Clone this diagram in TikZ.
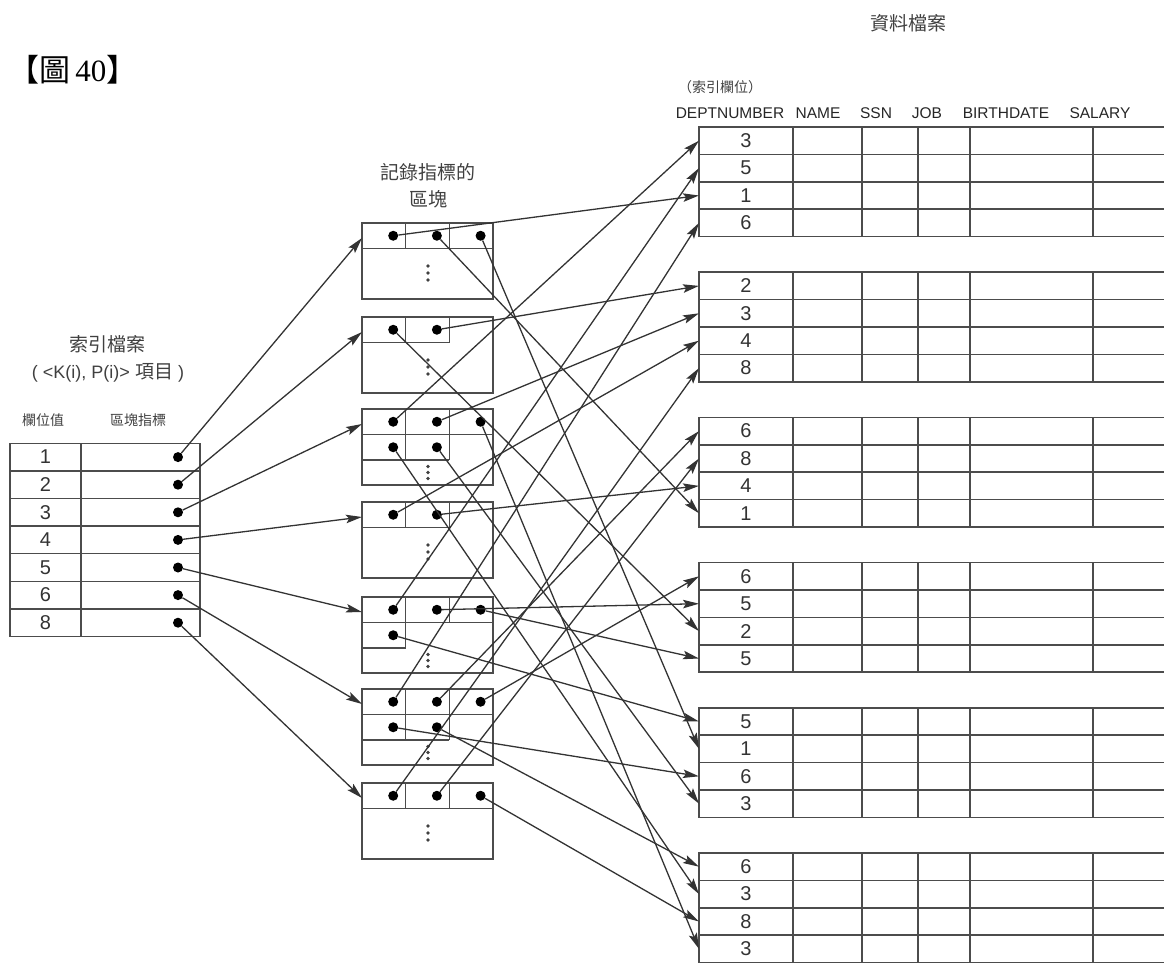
\documentclass[tikz,border=0pt]{standalone}
\usepackage{fontspec}
\setmainfont{Liberation Sans}
\newfontfamily\cjk{Noto Sans CJK TC}
\newfontfamily\titleserif{Liberation Serif}
\usetikzlibrary{arrows.meta}

\tikzset{
  ptr/.style={-{Stealth[length=16pt,width=8.5pt,inset=3pt]}, line width=1.3pt, draw=black!80},
  ptrdot/.style={circle, fill=black, inner sep=0pt, minimum size=10pt},
  cell/.style={line width=1.5pt, draw=black!70},
  val/.style={font=\fontsize{20}{20}\selectfont, text=black!80},
  hdr/.style={font=\fontsize{15.5}{16}\selectfont, text=black!85},
  lbl/.style={font=\cjk\fontsize{19}{27}\selectfont, text=black!75, align=center},
  small/.style={font=\cjk\fontsize{14}{14}\selectfont, text=black!75},
}

% block of record pointers: name, top, pointers in row 1, pointers in row 2
\newcommand\recblock[4]{%
  \draw[cell] (362,#2) rectangle (493,#2+76);
  \coordinate (#1in) at (362,#2+15);
  \draw[cell] (362,#2+25.5) -- (362+43.7*#3,#2+25.5);
  \foreach \c in {1,...,#3} {
    \draw[cell] (362+43.7*\c,#2) -- (362+43.7*\c,#2+25.5);
    \node[ptrdot] (#1a\c) at (362+43.7*\c-12.5,#2+12.75) {};
  }
  \ifnum#4>0
    \draw[cell] (362,#2+51) -- (362+43.7*#4,#2+51);
    \foreach \c in {1,...,#4} {
      \draw[cell] (362+43.7*\c,#2+25.5) -- (362+43.7*\c,#2+51);
      \node[ptrdot] (#1b\c) at (362+43.7*\c-12.5,#2+38.25) {};
    }
    \foreach \e in {-6,0,6} \fill[black!75] (428,#2+63.5+\e) circle (1.8pt);
  \else
    \foreach \e in {-7,0,7} \fill[black!75] (428,#2+50+\e) circle (1.8pt);
  \fi
}

\begin{document}
\begin{tikzpicture}[x=1pt, y=-1pt]
  \useasboundingbox (0,0) rectangle (1164,963);
  \clip (0,0) rectangle (1164,963);

  % titles
  \node[anchor=west, inner sep=0pt, font=\fontsize{31}{31}\selectfont] (title) at (8,70)
    {{\cjk 【圖}\,{\titleserif 40}{\cjk 】}};
  \node[lbl] (dfile) at (908,23) {資料檔案};
  \node[small] (keyf) at (720,87) {（索引欄位）};
  \node[lbl] (blklbl) at (428,186) {記錄指標的\\區塊};
  \node[lbl] (ifile) at (108,359) {索引檔案\\{\rmfamily\fontsize{18}{18}\selectfont ( <K(i), P(i)> }項目{\rmfamily\fontsize{18}{18}\selectfont\ )}};
  \node[small] (hkey) at (43,420) {欄位值};
  \node[small] (hptr) at (138,420) {區塊指標};

  % data file header
  \node[hdr] (hdept) at (730,113) {DEPTNUMBER};
  \node[hdr] (hname) at (818,113) {NAME};
  \node[hdr] (hssn) at (876,113) {SSN};
  \node[hdr] (hjob) at (927,113) {JOB};
  \node[hdr] (hbirth) at (1006,113) {BIRTHDATE};
  \node[hdr] (hsal) at (1100,113) {SALARY};

  % data file blocks
  \foreach \vals [count=\k from 0] in {{3,5,1,6},{2,3,4,8},{6,8,4,1},{6,5,2,5},{5,1,6,3},{6,3,8,3}} {
    \pgfmathsetmacro\T{127+145.2*\k}
    \draw[cell] (699,\T) rectangle (1175,\T+109.6);
    \foreach \j in {1,2,3} \draw[cell] (699,\T+27.4*\j) -- (1175,\T+27.4*\j);
    \foreach \cx in {793,862,918,970,1093} \draw[cell] (\cx,\T) -- (\cx,\T+109.6);
    \foreach \v [count=\r from 0] in \vals {
      \node[val] (v\k\r) at (746,\T+13.7+27.4*\r) {\v};
      \coordinate (rec\k\r) at (699,\T+13.7+27.4*\r);
    }
  }

  % index file
  \draw[cell] (10,443.3) rectangle (200,636.5);
  \draw[cell] (81,443.3) -- (81,636.5);
  \foreach \v [count=\i from 0] in {1,2,3,4,5,6,8} {
    \draw[cell] (10,443.3+27.6*\i) -- (200,443.3+27.6*\i);
    \node[val] (k\v) at (45.5,443.3+13.8+27.6*\i) {\v};
    \node[ptrdot] (ix\v) at (178,443.3+13.8+27.6*\i) {};
  }

  % blocks of record pointers
  \recblock{b1}{223}{3}{0}
  \recblock{b2}{317}{2}{0}
  \recblock{b3}{409}{3}{2}
  \recblock{b4}{502}{2}{0}
  \recblock{b5}{597}{3}{1}
  \recblock{b6}{689}{3}{2}
  \recblock{b7}{783}{3}{0}

  % index entries to blocks
  \foreach \a/\b in {ix1/b1in, ix2/b2in, ix3/b3in, ix4/b4in, ix5/b5in, ix6/b6in, ix8/b7in}
    \draw[ptr] (\a) -- (\b);

  % record pointers to records
  \foreach \a/\b in {b1a1/rec02, b1a2/rec23, b1a3/rec41,
                     b2a1/rec32, b2a2/rec10,
                     b3a1/rec00, b3a2/rec11, b3a3/rec53, b3b1/rec51, b3b2/rec43,
                     b4a1/rec12, b4a2/rec22,
                     b5a1/rec01, b5a2/rec31, b5a3/rec33, b5b1/rec40,
                     b6a1/rec03, b6a2/rec20, b6a3/rec30, b6b1/rec42, b6b2/rec50,
                     b7a1/rec13, b7a2/rec21, b7a3/rec52}
    \draw[ptr] (\a) -- (\b);
\end{tikzpicture}
\end{document}
